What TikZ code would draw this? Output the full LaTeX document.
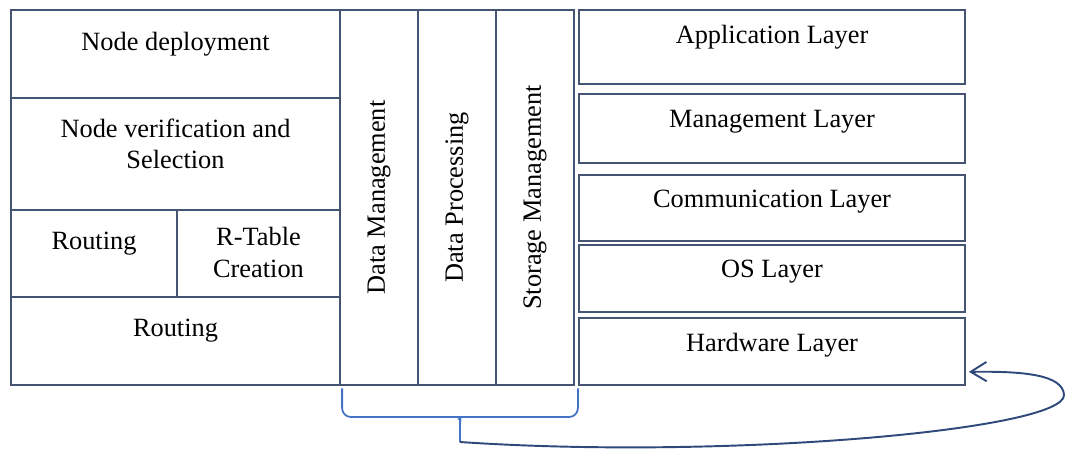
\documentclass[tikz,border=0pt]{standalone}
\usepackage{fontspec}
\setmainfont{Liberation Serif}
\usetikzlibrary{arrows.meta,positioning}
\definecolor{boxline}{RGB}{68,84,114}
\definecolor{bracecol}{RGB}{68,114,196}
\definecolor{linkcol}{RGB}{47,74,122}

\begin{document}
\begin{tikzpicture}[every node/.style={font=\fontsize{15}{18}\selectfont},
  box/.style={draw=boxline, line width=1pt, inner sep=0pt},
  txt/.style={align=center, yshift=0.2cm},
  lyr/.style={box, minimum width=7.72cm},
  col/.style={box, minimum width=1.56cm, minimum height=7.5cm}]
  \useasboundingbox (0,0) rectangle (21.36,-9.04);
  % Left block (node tasks)
  \node[box, minimum width=6.58cm, minimum height=1.76cm,
        label={[txt]center:Node deployment}] (dep) at (3.51,-1.08) {};
  \node[box, minimum width=6.58cm, minimum height=2.24cm,
        label={[txt]center:Node verification and\\Selection}] (ver) at (3.51,-3.08) {};
  \node[box, minimum width=3.32cm, minimum height=1.74cm,
        label={[txt]center:Routing}] (rt) at (1.88,-5.07) {};
  \node[box, minimum width=3.26cm, minimum height=1.74cm,
        label={[txt, yshift=-0.18cm]center:R-Table\\Creation}] (rtab) at (5.17,-5.07) {};
  \node[box, minimum width=6.58cm, minimum height=1.76cm,
        label={[txt]center:Routing}] (rt2) at (3.51,-6.82) {};
  % Middle columns (data handling)
  \node[col, label={[rotate=90]center:Data Management}] (dm) at (7.58,-3.95) {};
  \node[col, label={[rotate=90]center:Data Processing}] (dp) at (9.14,-3.95) {};
  \node[col, label={[rotate=90]center:Storage Management}] (sm) at (10.70,-3.95) {};
  % Right stack (layers)
  \node[lyr, minimum height=1.48cm, label={[txt]center:Application Layer}] (app) at (15.44,-0.94) {};
  \node[lyr, minimum height=1.38cm, label={[txt, yshift=-0.07cm]center:Management Layer}] (mgt) at (15.44,-2.57) {};
  \node[lyr, minimum height=1.32cm, label={[txt, yshift=-0.07cm]center:Communication Layer}] (com) at (15.44,-4.16) {};
  \node[lyr, minimum height=1.34cm, label={[txt, yshift=-0.07cm]center:OS Layer}] (os) at (15.44,-5.57) {};
  \node[lyr, minimum height=1.34cm, label={[txt, yshift=-0.07cm]center:Hardware Layer}] (hw) at (15.44,-7.03) {};
  % Brace under the columns
  \coordinate (btip) at (9.20,-8.84);
  \draw[bracecol, line width=1pt, rounded corners=5pt]
    ([xshift=0.06cm, yshift=-0.05cm]dm.south west) |- (9.08,-8.34)
    to[out=0, in=90] (9.20,-8.50) -- (btip);
  \draw[bracecol, line width=1pt, rounded corners=5pt]
    (9.20,-8.50) to[out=90, in=180] (9.32,-8.34)
    -| ([xshift=0.06cm, yshift=-0.05cm]sm.south east);
  % Link back to the hardware layer
  \coordinate (hwin) at ([xshift=0.06cm, yshift=0.28cm]hw.south east);
  \draw[linkcol, line width=1.1pt, -{Straight Barb[length=9pt, width=11pt]}]
    (btip) .. controls (14.5,-9.2) and (21.3,-8.6) .. (21.28,-7.9)
    .. controls (21.26,-7.5) and (20.5,-7.42) .. (hwin);
\end{tikzpicture}
\end{document}
